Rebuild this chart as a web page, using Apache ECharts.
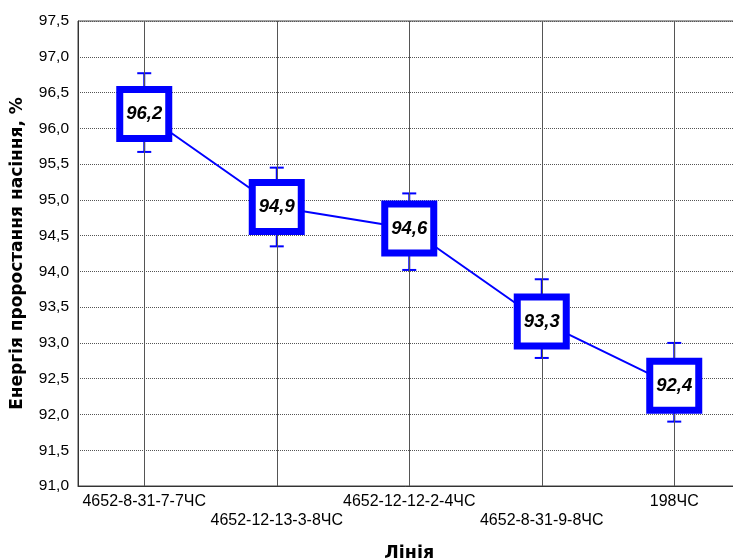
<!DOCTYPE html>
<html>
<head>
<meta charset="utf-8">
<script src="https://cdn.jsdelivr.net/npm/echarts@6/dist/echarts.min.js"></script>
<style>
  html, body { margin: 0; padding: 0; background: #fff; }
  #chart { width: 733px; height: 559px; }
</style>
</head>
<body>
<div id="chart"></div>
<script>
// Seed germination energy by line, with confidence whiskers
const categories = ['4652-8-31-7-7ЧС', '4652-12-13-3-8ЧС', '4652-12-12-2-4ЧС', '4652-8-31-9-8ЧС', '198ЧС'];
const energy = [96.2, 94.9, 94.6, 93.3, 92.4];
const errHigh = [96.77, 95.45, 95.09, 93.89, 93.00];
const errLow = [95.67, 94.35, 94.02, 92.79, 91.90];

const BLUE = '#0000ff';
const comma = v => Number(v).toFixed(1).replace('.', ',');

const chart = echarts.init(document.getElementById('chart'));

const whiskerData = categories.map((c, i) => [i, errLow[i], errHigh[i]]);

chart.setOption({
  animation: false,
  backgroundColor: '#fff',
  grid: {
    left: 78, top: 21, bottom: 73, right: -7.5,
    outerBoundsMode: 'none',
    containLabel: false,
    show: true, borderColor: '#444', borderWidth: 1
  },
  xAxis: {
    type: 'category',
    data: categories,
    boundaryGap: true,
    name: 'Лінія',
    nameLocation: 'middle',
    nameGap: 58,
    nameTextStyle: { fontFamily: 'DejaVu Sans', fontWeight: 'bold', fontSize: 17.5, color: '#000' },
    axisLine: { show: true, lineStyle: { color: '#333', width: 1 } },
    axisTick: { show: false },
    splitLine: { show: false },
    axisLabel: {
      interval: 0,
      hideOverlap: false,
      margin: 6.5,
      fontFamily: 'Liberation Sans',
      fontSize: 16,
      lineHeight: 19,
      color: '#000',
      formatter: (v, i) => (i % 2 ? '\n' + v : v)
    }
  },
  yAxis: {
    type: 'value',
    min: 91,
    max: 97.5,
    interval: 0.5,
    name: 'Енергія проростання насіння, %',
    nameLocation: 'middle',
    nameGap: 52,
    nameTextStyle: { fontFamily: 'DejaVu Sans', fontWeight: 'bold', fontSize: 17, color: '#000' },
    axisLine: { show: true, lineStyle: { color: '#333', width: 1 } },
    axisTick: { show: false },
    splitLine: { show: true, lineStyle: { color: '#555', type: 'dotted', width: 1 } },
    axisLabel: {
      margin: 9,
      fontFamily: 'Liberation Sans',
      fontSize: 15.5,
      color: '#000',
      formatter: v => comma(v)
    }
  },
  series: [
    {
      // whiskers plus the vertical guide line through each category
      type: 'custom',
      z: 1,
      data: whiskerData,
      renderItem: (params, api) => {
        const x = api.value(0);
        const lo = api.coord([x, api.value(1)]);
        const hi = api.coord([x, api.value(2)]);
        const half = 7;
        const st = { stroke: BLUE, lineWidth: 2 };
        return {
          type: 'group',
          children: [
            { type: 'line', shape: { x1: hi[0], y1: hi[1], x2: lo[0], y2: lo[1] }, style: st },
            { type: 'line', shape: { x1: hi[0] - half, y1: hi[1], x2: hi[0] + half, y2: hi[1] }, style: st },
            { type: 'line', shape: { x1: lo[0] - half, y1: lo[1], x2: lo[0] + half, y2: lo[1] }, style: st }
          ]
        };
      },
      markLine: {
        silent: true,
        symbol: 'none',
        label: { show: false },
        lineStyle: { color: '#555', type: 'solid', width: 1 },
        data: categories.map(c => ({ xAxis: c }))
      }
    },
    {
      type: 'line',
      z: 5,
      data: energy,
      symbol: 'rect',
      symbolSize: 49,
      lineStyle: { color: BLUE, width: 2 },
      itemStyle: { color: '#fff', borderColor: BLUE, borderWidth: 7 },
      label: {
        show: true,
        position: 'inside',
        fontFamily: 'Liberation Sans',
        fontWeight: 'bold',
        fontStyle: 'italic',
        fontSize: 18.5,
        color: '#000',
        formatter: p => comma(p.value)
      }
    }
  ]
});
</script>
</body>
</html>
